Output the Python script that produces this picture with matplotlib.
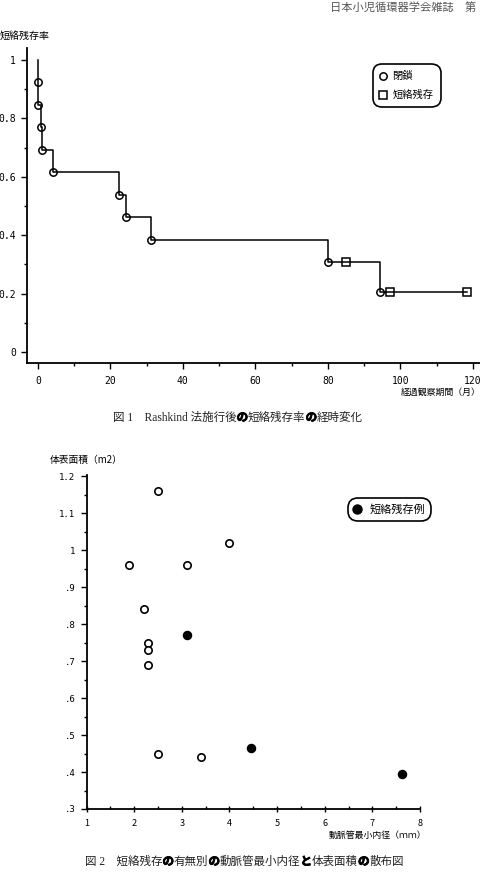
import numpy as np
import matplotlib as mpl
from matplotlib import pyplot as plt
from matplotlib.lines import Line2D
from matplotlib.offsetbox import TextArea, HPacker, AnnotationBbox
import matplotlib.patheffects as pe

plt.rcParams['font.family'] = ['Noto Sans CJK JP', 'DejaVu Sans']

W, H = 480, 873

# 図1: Kaplan-Meier (events / censored)
event_t = [0, 0, 0.8, 1.2, 4.2, 22.3, 24.2, 31.2, 80, 94.3]
event_s = [0.923, 0.846, 0.769, 0.692, 0.615, 0.538, 0.462, 0.385, 0.308, 0.205]
cens_t = [85.1, 97.2, 118.3]
cens_s = [0.308, 0.205, 0.205]
km_xticks = [0, 20, 40, 60, 80, 100, 120]
km_yticks = [0, 0.2, 0.4, 0.6, 0.8, 1]
km_ylabels = ['0', '0.2', '0.4', '0.6', '0.8', '1']

# 図2: scatter
open_d = [2.5, 4.0, 1.9, 3.1, 2.2, 2.3, 2.3, 2.3, 2.5, 3.4]
open_bsa = [1.16, 1.02, 0.96, 0.96, 0.84, 0.75, 0.73, 0.69, 0.45, 0.44]
fill_d = [3.1, 4.45, 7.63]
fill_bsa = [0.77, 0.464, 0.395]
sc_xticks = [1, 2, 3, 4, 5, 6, 7, 8]
sc_yticks = [0.3, 0.4, 0.5, 0.6, 0.7, 0.8, 0.9, 1.0, 1.1, 1.2]
sc_ylabels = ['.3', '.4', '.5', '.6', '.7', '.8', '.9', '1', '1.1', '1.2']

MONO = 'DejaVu Sans Mono'
CAP = ['Liberation Serif', 'Noto Sans CJK JP']

def fx(px):
    return px / W

def fy(py):
    return 1 - py / H

fig = plt.figure(figsize=(4.8, 8.73), dpi=100)

fig.text(fx(330), fy(7), '日本小児循環器学会雑誌　第', fontsize=8.1, color='#555555',
         va='center', ha='left')

#################### 図1
ax1 = fig.add_axes([fx(27), fy(363), 453 / W, (363 - 48) / H])
xs = [0] + event_t + [cens_t[-1]]
ys = [1] + event_s + [event_s[-1]]
ax1.step(xs, ys, where='post', color='k', lw=1.1)
ax1.plot(event_t, event_s, 'o', mfc='none', mec='k', ms=5.3, mew=1.1)
ax1.plot(cens_t, cens_s, 's', mfc='none', mec='k', ms=5.3, mew=1.1)
ax1.set_xlim(-3, 121.97)
ax1.set_ylim(-0.038, 1.041)
ax1.set_xticks(km_xticks)
ax1.set_xticks(np.arange(10, 121, 20), minor=True)
ax1.set_yticks(km_yticks)
ax1.set_yticklabels(km_ylabels)
ax1.set_yticks([0.1, 0.3, 0.5, 0.7, 0.9], minor=True)
for s in ['top', 'right']:
    ax1.spines[s].set_visible(False)
for s in ['left', 'bottom']:
    ax1.spines[s].set_linewidth(1.3)
ax1.tick_params(which='major', length=4, width=1.0, labelsize=7, labelfontfamily=MONO)
ax1.tick_params(which='minor', length=2.5, width=1.0)
ax1.tick_params(axis='y', pad=4)
ax1.tick_params(axis='x', pad=5)

h1 = [Line2D([], [], ls='none', marker='o', mfc='none', mec='k', ms=5.3, mew=1.1),
      Line2D([], [], ls='none', marker='s', mfc='none', mec='k', ms=5.3, mew=1.1)]
leg1 = ax1.legend(h1, ['閉鎖', '短絡残存'], loc='upper left',
                  bbox_to_anchor=(fx(373), fy(64)), bbox_transform=fig.transFigure,
                  borderaxespad=0, fancybox=True, framealpha=1, edgecolor='k',
                  fontsize=7.4, handlelength=0.6, handletextpad=0.6, labelspacing=0.85,
                  borderpad=0.7)
leg1.get_frame().set_linewidth(1.2)
leg1.get_frame().set_boxstyle('round', pad=0, rounding_size=0.9)

fig.text(0, fy(36), '短絡残存率', fontsize=7.2, ha='left', va='center')
fig.text(fx(401), fy(392), '経過観察期間（月）', fontsize=6.4, ha='left', va='center')

#################### 図2
ax2 = fig.add_axes([fx(86.5), fy(809), (420 - 86.5) / W, (809 - 475) / H])
ax2.scatter(open_d, open_bsa, s=28, facecolors='white', edgecolors='k', linewidths=1.2, zorder=3)
ax2.scatter(fill_d, fill_bsa, s=34, facecolors='k', edgecolors='k', linewidths=1.0, zorder=3)
ax2.set_xlim(1, 8)
ax2.set_ylim(0.3, 1.203)
ax2.set_xticks(sc_xticks)
ax2.set_xticks(np.arange(1.5, 8, 1), minor=True)
ax2.set_yticks(sc_yticks)
ax2.set_yticklabels(sc_ylabels)
ax2.set_yticks(np.arange(0.35, 1.2, 0.1), minor=True)
for s in ['top', 'right']:
    ax2.spines[s].set_visible(False)
for s in ['left', 'bottom']:
    ax2.spines[s].set_linewidth(1.3)
ax2.tick_params(axis='x', which='major', direction='inout', length=5, width=1.0,
                labelsize=6.5, pad=5)
ax2.tick_params(axis='x', which='minor', direction='in', length=2.5, width=1.0)
ax2.tick_params(axis='y', which='major', direction='out', length=4, width=1.0,
                labelsize=6.5, labelfontfamily=MONO, pad=4)
ax2.tick_params(axis='y', which='minor', direction='out', length=2.5, width=1.0)

h2 = [Line2D([], [], ls='none', marker='o', mfc='k', mec='k', ms=6.5)]
leg2 = ax2.legend(h2, ['短絡残存例'], loc='upper left',
                  bbox_to_anchor=(fx(348), fy(498)), bbox_transform=fig.transFigure,
                  borderaxespad=0, fancybox=True, framealpha=1, edgecolor='k',
                  fontsize=8, handlelength=0.6, handletextpad=0.8, borderpad=0.55)
leg2.get_frame().set_linewidth(1.2)
leg2.get_frame().set_boxstyle('round', pad=0, rounding_size=0.9)

fig.text(fx(50), fy(460), '体表面積（m2）', fontsize=7, ha='left', va='center')
fig.text(fx(329), fy(835), '動脈管最小内径（ｍｍ）', fontsize=6.4, ha='left', va='center')

#################### captions
def caption(parts, x, y):
    boxes = []
    for txt, bold in parts:
        props = dict(fontsize=8.3, family=CAP, color='#222222')
        if bold:
            props['color'] = 'k'
            props['fontweight'] = 'bold'
            props['path_effects'] = [pe.withStroke(linewidth=0.6, foreground='k')]
        boxes.append(TextArea(txt, textprops=props))
    pack = HPacker(children=boxes, align='baseline', pad=0, sep=0)
    ab = AnnotationBbox(pack, (fx(x), fy(y)), xycoords='figure fraction',
                        box_alignment=(0, 0.5), frameon=False, pad=0)
    fig.add_artist(ab)

caption([('図 1　Rashkind 法施行後', False), ('の', True), ('短絡残存率', False),
         ('の', True), ('経時変化', False)], 113, 418)
caption([('図 2　短絡残存', False), ('の', True), ('有無別', False), ('の', True),
         ('動脈管最小内径', False), ('と', True), ('体表面積', False), ('の', True),
         ('散布図', False)], 85, 862)

fig.savefig('out.png', dpi=100)
